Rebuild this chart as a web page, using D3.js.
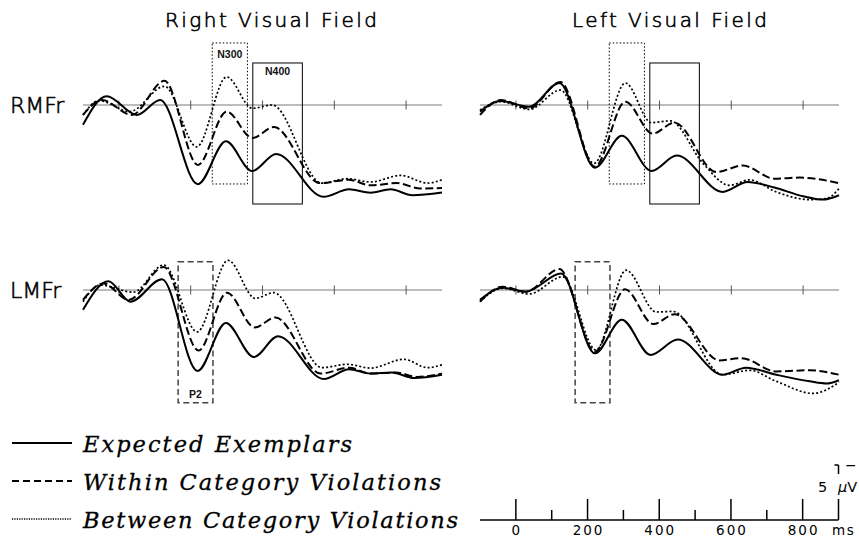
<!DOCTYPE html>
<html><head><meta charset="utf-8">
<script src="https://cdn.jsdelivr.net/npm/d3@7"></script>
<style>html,body{margin:0;padding:0;background:#fff}</style>
</head><body>
<svg id="c" width="859" height="543"></svg>
<script>
// ---------- data ----------
const timeDomain = [-100, 900];
const axisTicks = [0, 200, 400, 600, 800];
const scaleTicks = [0, 100, 200, 300, 400, 500, 600, 700, 800];
const scaleLabels = [0, 200, 400, 600, 800];
const fieldTitles = ["Right Visual Field", "Left Visual Field"];
const siteLabels = ["RMFr", "LMFr"];
const seriesNames = ["Expected Exemplars", "Within Category Violations", "Between Category Violations"];
const scaleBarUV = 5;

// [ms, µV]  (positive plotted downward, negative up)
const rmfrRightExpected = [[-100,1.8],[-34,-0.8],[50,0.9],[115,-0.45],[220,7.2],[298,3.3],[371,6.0],[438,4.45],[570,8.35],[641,7.67],[701,7.97],[757,7.67],[817,8.2],[900,7.95]];
const rmfrRightWithin   = [[-100,0.9],[-47,-0.45],[36,0.9],[127,-2.2],[220,5.45],[300,0.6],[372,3.0],[432,2.0],[560,7.1],[640,6.8],[701,7.3],[775,7.1],[840,7.6],[900,7.55]];
const rmfrRightBetween  = [[-100,0.9],[-55,-0.4],[30,0.6],[127,-1.7],[217,3.8],[300,-2.55],[372,0.3],[427,0.0],[565,7.1],[636,6.7],[701,7.0],[785,6.4],[860,7.1],[900,6.8]];

const rmfrLeftExpected  = [[-100,0.6],[-42,-0.36],[37,0.15],[121,-2.0],[220,5.7],[295,2.8],[378,6.0],[448,4.6],[576,7.9],[645,7.0],[720,7.5],[800,8.3],[855,8.6],[900,8.2]];
const rmfrLeftWithin    = [[-100,0.9],[-42,-0.45],[37,0.3],[124,-2.1],[220,5.6],[305,-0.3],[381,2.6],[442,1.6],[558,6.1],[632,5.5],[720,6.7],[790,6.6],[900,7.1]];
const rmfrLeftBetween   = [[-100,0.45],[-42,-0.3],[37,0.4],[124,-1.36],[218,5.3],[305,-2.0],[377,1.6],[430,1.45],[521,5.3],[595,7.3],[651,6.8],[725,7.9],[818,8.6],[865,8.5],[900,7.6]];

const lmfrRightExpected = [[-100,1.8],[-29,-0.8],[32,1.06],[120,-0.97],[219,7.36],[298,3.0],[376,6.1],[443,4.2],[571,8.1],[641,7.2],[700,7.6],[760,7.5],[822,8.0],[900,7.7]];
const lmfrRightWithin   = [[-100,0.9],[-43,-0.6],[27,0.9],[125,-2.1],[222,5.5],[301,0.24],[378,3.4],[436,2.5],[562,7.6],[641,7.06],[701,7.6],[771,7.5],[831,7.9],[900,7.6]];
const lmfrRightBetween  = [[-100,1.06],[-52,-0.45],[40,0.2],[125,-2.27],[218,3.8],[304,-2.7],[380,0.76],[431,0.24],[566,7.06],[636,6.75],[701,7.1],[794,6.3],[860,7.06],[900,6.8]];

const lmfrLeftExpected  = [[-100,0.9],[-37,-0.2],[28,0.15],[126,-1.5],[220,5.76],[295,2.7],[375,5.9],[451,4.5],[576,7.7],[641,7.06],[725,7.7],[818,8.3],[865,8.5],[900,8.2]];
const lmfrLeftWithin    = [[-100,1.06],[-37,-0.3],[28,0.15],[121,-1.9],[220,5.6],[304,-0.06],[383,3.1],[442,2.2],[567,6.4],[628,6.2],[725,7.4],[818,7.3],[900,7.7]];
const lmfrLeftBetween   = [[-100,1.06],[-37,-0.15],[37,0.36],[130,-1.2],[223,5.45],[307,-1.8],[391,2.0],[437,1.95],[576,7.7],[651,7.3],[725,8.3],[828,9.4],[900,8.4]];

// analysis windows: [label, startMs, endMs, topUV, bottomUV]
const topWindows = [["N300", 260, 358, -5.64, 7.18], ["N400", 373, 511, -3.82, 9.0]];
const bottomWindows = [["P2", 165, 262, -2.57, 10.25]];

// ---------- drawing ----------
const svg = d3.select("#c");
const pxPerUV = 11;
const colX = [[83, 442], [480, 839]];
const rowZero = [105, 290];

const styles = [
  {w: 2, dash: null},
  {w: 2, dash: "8,3.5"},
  {w: 1.7, dash: "2,2.2"}
];

const panels = [
  {row: 0, col: 0, series: [rmfrRightExpected, rmfrRightWithin, rmfrRightBetween], windows: topWindows},
  {row: 0, col: 1, series: [rmfrLeftExpected, rmfrLeftWithin, rmfrLeftBetween], windows: topWindows},
  {row: 1, col: 0, series: [lmfrRightExpected, lmfrRightWithin, lmfrRightBetween], windows: bottomWindows},
  {row: 1, col: 1, series: [lmfrLeftExpected, lmfrLeftWithin, lmfrLeftBetween], windows: bottomWindows}
];

panels.forEach(p => {
  const x = d3.scaleLinear().domain(timeDomain).range(colX[p.col]);
  const y = d3.scaleLinear().domain([0, 1]).range([rowZero[p.row], rowZero[p.row] + pxPerUV]);
  const g = svg.append("g");
  g.append("line").attr("x1", x(timeDomain[0])).attr("x2", x(timeDomain[1]))
    .attr("y1", y(0)).attr("y2", y(0)).attr("stroke", "#7a7a7a").attr("stroke-width", 1);
  g.selectAll(".tk").data(axisTicks).enter().append("line")
    .attr("x1", d => x(d)).attr("x2", d => x(d))
    .attr("y1", y(0) - 4.5).attr("y2", y(0) + 4.5)
    .attr("stroke", "#555").attr("stroke-width", 1);
  p.windows.forEach(wd => {
    const [lab, t0, t1, v0, v1] = wd;
    let st = {stroke: "#000", w: 1, dash: null};
    if (lab === "N300") st = {stroke: "#000", w: 1, dash: "1.5,2"};
    if (lab === "P2") st = {stroke: "#444", w: 1.5, dash: "6,3.5"};
    g.append("rect").attr("x", x(t0)).attr("y", y(v0))
      .attr("width", x(t1) - x(t0)).attr("height", y(v1) - y(v0))
      .attr("fill", "none").attr("stroke", st.stroke).attr("stroke-width", st.w)
      .attr("stroke-dasharray", st.dash);
    if (p.col === 0) {
      const cx = (x(t0) + x(t1)) / 2;
      const by = lab === "P2" ? y(v1) - 5 : y(v0) + (lab === "N300" ? 15 : 12);
      g.append("text").attr("x", cx).attr("y", by).attr("text-anchor", "middle")
        .attr("font-family", "Liberation Sans, Arial, sans-serif").attr("font-weight", "bold")
        .attr("font-size", 10.5).attr("fill", "#111").text(lab);
    }
  });
  const line = d3.line().x(d => x(d[0])).y(d => y(d[1])).curve(d3.curveMonotoneX);
  p.series.forEach((s, i) => {
    g.append("path").attr("d", line(s)).attr("fill", "none").attr("stroke", "#000")
      .attr("stroke-width", styles[i].w).attr("stroke-dasharray", styles[i].dash)
      .attr("stroke-linejoin", "round");
  });
});

// titles
const titleSpans = [[165, 377], [572, 767]];
fieldTitles.forEach((t, i) => {
  svg.append("text").attr("x", titleSpans[i][0]).attr("y", 27)
    .attr("font-family", "DejaVu Sans, sans-serif").attr("font-weight", 200)
    .attr("font-size", 20).attr("textLength", titleSpans[i][1] - titleSpans[i][0])
    .attr("lengthAdjust", "spacing").attr("fill", "#000")
    .attr("stroke", "#000").attr("stroke-width", 0.6).text(t);
});
siteLabels.forEach((t, i) => {
  svg.append("text").attr("x", 10).attr("y", rowZero[i] + 8)
    .attr("font-family", "DejaVu Sans, sans-serif").attr("font-weight", 200)
    .attr("font-size", 22).attr("fill", "#000")
    .attr("stroke", "#000").attr("stroke-width", 0.6).text(t);
});

// legend
const legY = [443, 481, 519];
const legLen = [269, 358, 375];
seriesNames.forEach((n, i) => {
  svg.append("line").attr("x1", 12).attr("x2", 72).attr("y1", legY[i]).attr("y2", legY[i])
    .attr("stroke", "#000").attr("stroke-width", i === 2 ? 1.3 : 1.8)
    .attr("stroke-dasharray", i === 1 ? "7,4" : (i === 2 ? "1.2,1.2" : null));
  svg.append("text").attr("x", 83).attr("y", legY[i] + 8.5)
    .attr("font-family", "DejaVu Serif, serif").attr("font-style", "italic")
    .attr("font-size", 22.5).attr("textLength", legLen[i]).attr("lengthAdjust", "spacing")
    .attr("fill", "#000").attr("stroke", "#000").attr("stroke-width", 0.3).text(n);
});

// scale bar
const sx = d3.scaleLinear().domain(timeDomain).range([480, 838.5]);
const sy = d3.scaleLinear().domain([0, 1]).range([520, 520 - pxPerUV]);
const sb = svg.append("g");
sb.append("line").attr("x1", sx(timeDomain[0])).attr("x2", sx(timeDomain[1]))
  .attr("y1", 520).attr("y2", 520).attr("stroke", "#000").attr("stroke-width", 1.5);
sb.selectAll(".st").data(scaleTicks).enter().append("line")
  .attr("x1", d => sx(d)).attr("x2", d => sx(d))
  .attr("y1", 520).attr("y2", d => scaleLabels.includes(d) ? 499 : 510)
  .attr("stroke", "#000").attr("stroke-width", 1.5);
sb.selectAll(".sl").data(scaleLabels).enter().append("text")
  .attr("x", d => sx(d) + 1).attr("y", 535).attr("text-anchor", "middle")
  .attr("font-family", "DejaVu Sans, sans-serif").attr("font-size", 13.5)
  .attr("letter-spacing", 2).attr("fill", "#000").text(d => d);
sb.append("text").attr("x", 832).attr("y", 535)
  .attr("font-family", "DejaVu Sans, sans-serif").attr("font-size", 13.5)
  .attr("letter-spacing", 1.5).attr("fill", "#000").text("ms");
const bx = sx(timeDomain[1]);
sb.append("line").attr("x1", bx).attr("x2", bx).attr("y1", sy(0)).attr("y2", 499)
  .attr("stroke", "#000").attr("stroke-width", 1.5);
sb.append("line").attr("x1", bx).attr("x2", bx).attr("y1", sy(scaleBarUV)).attr("y2", 474)
  .attr("stroke", "#000").attr("stroke-width", 1.5);
sb.append("line").attr("x1", bx - 4).attr("x2", bx).attr("y1", sy(scaleBarUV)).attr("y2", sy(scaleBarUV))
  .attr("stroke", "#000").attr("stroke-width", 1.5);
sb.append("text").attr("x", 845).attr("y", sy(scaleBarUV) + 4.5)
  .attr("font-family", "DejaVu Sans, sans-serif").attr("font-size", 14).attr("fill", "#000").text("\u2212");
sb.append("text").attr("x", 818).attr("y", 492)
  .attr("font-family", "DejaVu Sans, sans-serif").attr("font-size", 14.5).attr("fill", "#000").text(scaleBarUV);
sb.append("text").attr("x", 838).attr("y", 492)
  .attr("font-family", "DejaVu Sans, sans-serif").attr("font-size", 14.5).attr("fill", "#000")
  .html('<tspan font-style="italic">\u03bc</tspan>V');
</script>
</body></html>
